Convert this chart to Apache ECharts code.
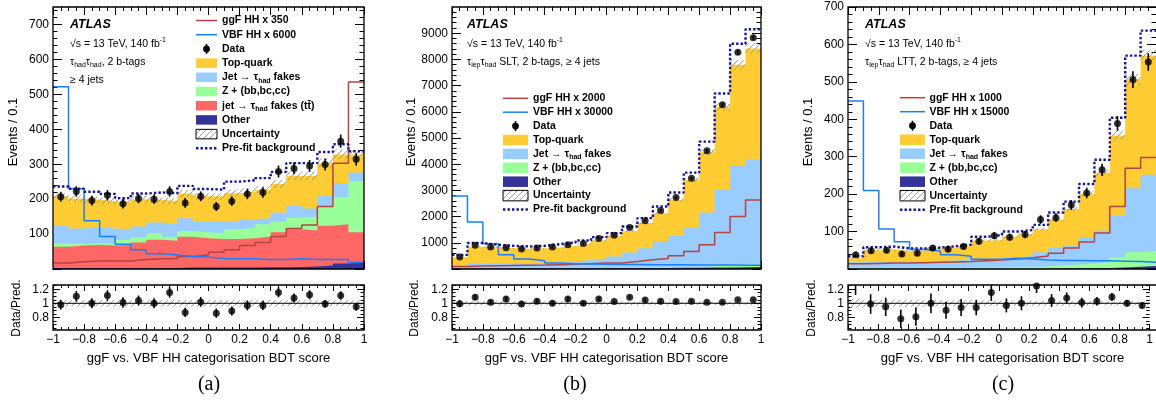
<!DOCTYPE html>
<html><head><meta charset="utf-8">
<script src="https://cdn.jsdelivr.net/npm/echarts@6/dist/echarts.min.js"></script>
<style>html,body{margin:0;padding:0;background:#fff}#c{position:relative;width:1156px;height:415px;overflow:hidden}
.layer{position:absolute;left:0;top:0;width:1156px;height:415px}</style>
</head><body><div id="c"></div>
<script>
// ---------------- data ----------------
const binEdges = [-1,-0.9,-0.8,-0.7,-0.6,-0.5,-0.4,-0.3,-0.2,-0.1,0,0.1,0.2,0.3,0.4,0.5,0.6,0.7,0.8,0.9,1];
const binCenters = [-0.95,-0.85,-0.75,-0.65,-0.55,-0.45,-0.35,-0.25,-0.15,-0.05,0.05,0.15,0.25,0.35,0.45,0.55,0.65,0.75,0.85,0.95];

const aOther   = [3,3,3,3,3,3,3,3,4,4,4,4,4,5,5,6,7,10,16,18];
const aTtFake  = [61,64,66,64,66,73,81,78,88,84,82,82,84,88,100,108,103,114,112,87];
const aZbb     = [9,5,5,6,15,14,18,11,17,17,17,28,30,35,30,33,40,55,78,147];
const aJetFake = [51,44,46,43,30,32,31,36,36,30,34,21,25,17,27,34,23,31,40,24];
const aTop     = [84,86,78,78,78,78,65,67,71,73,71,82,78,82,81,86,94,93,82,52];
const aUnc     = [9,9,9,9,9,9,9,9,10,10,10,10,10,11,11,12,12,13,14,14];
const aData    = [207,222,196,211,187,202,200,222,189,208,179,194,215,219,279,288,295,299,366,314];
const aDataErr = [14,15,14,15,14,14,14,15,14,14,13,14,15,15,17,17,17,17,19,18];
const aPrefit  = [236,230,221,215,203,216,219,217,238,229,227,250,254,260,278,303,303,335,357,337];
const aGgF     = [17,21,23,23,23,27,29,30,36,40,48,55,67,76,93,116,126,179,303,535];
const aVBF     = [522,230,138,93,71,55,44,40,36,34,30,29,29,27,27,29,27,27,27,19];
const aRatio   = [0.98,1.10,1.00,1.11,1.01,1.04,1.00,1.155,0.87,1.02,0.86,0.89,0.97,0.97,1.155,1.075,1.12,0.99,1.11,0.95];
const aRatioErr= [0.07,0.075,0.07,0.075,0.075,0.07,0.07,0.075,0.065,0.07,0.065,0.065,0.07,0.065,0.07,0.065,0.065,0.055,0.06,0.055];

const bOther   = [20,30,30,30,30,30,30,30,30,30,35,35,40,40,45,50,55,60,70,80];
const bZbb     = [10,15,15,15,15,15,15,15,20,20,20,25,25,30,30,40,50,60,90,110];
const bJetFake = [100,175,175,180,185,195,215,245,290,350,425,570,730,980,1190,1510,2050,2920,3810,4000];
const bTop     = [320,630,615,575,540,550,560,595,620,690,780,825,960,1080,1370,1800,2300,3150,3830,4230];
const bUnc     = [15,25,25,25,25,25,25,25,30,30,35,40,45,55,65,85,110,150,190,200];
const bData    = [455,910,835,810,760,800,835,925,975,1165,1292,1584,1838,2232,2727,3463,4517,6270,8270,8830];
const bDataErr = [21,30,29,28,28,28,29,30,31,34,36,40,43,47,52,59,67,79,91,94];
const bPrefit  = [540,990,925,885,860,885,950,1013,1090,1216,1368,1622,1940,2384,2917,3679,4860,6700,8600,9150];
const bGgF     = [100,110,120,130,140,150,165,180,200,225,225,289,352,400,505,670,924,1394,2003,2638];
const bVBF     = [2790,1790,962,543,378,314,225,200,190,180,175,170,165,160,160,155,150,150,145,140];
const bRatio   = [0.995,1.085,1.015,1.06,0.99,1.03,1.0,1.06,1.0,1.06,1.025,1.085,1.045,1.03,1.025,1.03,1.015,1.015,1.05,1.05];
const bRatioErr= [0.05,0.036,0.036,0.036,0.037,0.036,0.036,0.034,0.033,0.03,0.029,0.026,0.024,0.022,0.02,0.018,0.015,0.013,0.011,0.011];

const cOther   = [1,1,1,1,1,1,1,1,1,1,1,1,1,2,2,2,3,4,6,8];
const cZbb     = [3,3,3,3,3,3,3,3,4,4,5,5,6,8,10,12,16,27,39,40];
const cJetFake = [14,16,16,16,17,18,19,20,21,23,26,28,38,46,50,71,84,112,171,204];
const cTop     = [11,30,33,28,28,33,35,38,50,49,54,58,61,76,98,116,154,214,290,318];
const cUnc     = [2,2.5,2.5,2.5,2.5,2.5,2.5,3,3,3,3.5,3.5,4,5,5.5,6.5,8,11,15,16];
const cData    = [38,49,50,40,42,56,53,60,74,89,85,92,132,137,171,203,265,389,506,553];
const cDataErr = [6,7,7,6.3,6.5,7.5,7.3,7.7,8.6,9.4,9.2,9.6,11.5,11.7,13,14.2,16.3,19.7,22.5,23.5];
const cPrefit  = [34,58,60,55,55,57,61,65,86,91,100,104,118,151,180,227,292,404,570,637];
const cGgF     = [14,15,16,16,17,18,19,20,22,24,27,30,35,42,56,72,96,167,269,298];
const cVBF     = [449,210,107,73,52,48,38,34,26,26,29,27,24,23,23,22,22,21,20,18];
const cRatio   = [1.29,0.99,0.95,0.78,0.81,1.0,0.90,0.94,0.94,1.155,0.97,1.0,1.245,1.04,1.075,1.01,1.03,1.09,1.0,0.97];
const cRatioErr= [0.17,0.14,0.13,0.13,0.13,0.14,0.12,0.12,0.11,0.12,0.1,0.1,0.1,0.09,0.08,0.07,0.06,0.055,0.045,0.04];

const yTicksA = [0,100,200,300,400,500,600,700];
const yLabelsA = [100,200,300,400,500,600,700];
const yTicksB = [0,1000,2000,3000,4000,5000,6000,7000,8000,9000];
const yLabelsB = [1000,2000,3000,4000,5000,6000,7000,8000,9000];
const yTicksC = [0,100,200,300,400,500,600,700];
const yLabelsC = [100,200,300,400,500,600,700];
const rTicks = [0.8,1,1.2];
const rMinorTicks = [0.65,0.7,0.75,0.85,0.9,0.95,1.05,1.1,1.15,1.25];

// ---------------- style ----------------
const FONT = '"Liberation Sans", Arial, Helvetica, sans-serif';
const SERIF = '"Liberation Serif", "Times New Roman", serif';
const C = {top:'#ffcc33', jet:'#99ccff', z:'#99ff99', tt:'#ff6666', other:'#333399', ggf:'#b5433f', vbf:'#1a7fff', prefit:'#1414a0'};
function makeHatch(){
  const cv = document.createElement('canvas'); cv.width = 6; cv.height = 6;
  const g = cv.getContext('2d'); g.strokeStyle = '#8a8a8a'; g.lineWidth = 0.8; g.beginPath();
  g.moveTo(0,6); g.lineTo(6,0); g.moveTo(-3,3); g.lineTo(3,-3); g.moveTo(3,9); g.lineTo(9,3); g.stroke();
  return cv;
}
const hatchFill = {image: makeHatch(), repeat: 'repeat'};
function minorRange(lo, hi, step, majorStep){ const out=[]; for(let v=lo; v<=hi+1e-9; v+=step){const r=Math.round(v*1000)/1000; if(Math.abs(r/majorStep-Math.round(r/majorStep))>1e-6) out.push(r);} return out; }

const G = [[53,7,311,262],[53,285,311,45],[452,7,309,262],[452,285,309,45],[848,7,309,262],[848,285,309,45]];
const panels = [
  {main:0, rg:1, ymax:750, yint:100, showMax:false, ticks:yTicksA, labels:yLabelsA, minor:minorRange(20,740,20,100),
   comps:[[aOther,C.other],[aTtFake,C.tt],[aZbb,C.z],[aJetFake,C.jet],[aTop,C.top]],
   unc:aUnc, data:aData, err:aDataErr, prefit:aPrefit, ggf:aGgF, vbf:aVBF, ratio:aRatio, rerr:aRatioErr},
  {main:2, rg:3, ymax:10000, yint:1000, showMax:false, ticks:yTicksB, labels:yLabelsB, minor:minorRange(200,9800,200,1000),
   comps:[[bOther,C.other],[bZbb,C.z],[bJetFake,C.jet],[bTop,C.top]],
   unc:bUnc, data:bData, err:bDataErr, prefit:bPrefit, ggf:bGgF, vbf:bVBF, ratio:bRatio, rerr:bRatioErr},
  {main:4, rg:5, ymax:700, yint:100, showMax:true, ticks:yTicksC, labels:yLabelsC, minor:minorRange(20,680,20,100),
   comps:[[cOther,C.other],[cZbb,C.z],[cJetFake,C.jet],[cTop,C.top]],
   unc:cUnc, data:cData, err:cDataErr, prefit:cPrefit, ggf:cGgF, vbf:cVBF, ratio:cRatio, rerr:cRatioErr}
];

function fmtX(v){ const s = String(+(+v).toFixed(1)); return s.replace('-', '\u2212'); }
function fmtY(v){ return String(+(+v).toFixed(2)); }
const lblStyle = {color:'#000', fontFamily:FONT, fontSize:12, margin:4};
function xAxisDef(pos, showLabel, L, level){
  if (level >= 3) return {type:'value', min:-1, max:1, interval:0.2, position:pos, splitLine:{show:false},
     axisLabel:Object.assign({show:showLabel, formatter:fmtX}, lblStyle)};
  return {type:'value', position:pos, min:-1, max:1, interval:0.2, axisLine:{show:false, onZero:false},
    axisTick:{show:true, inside:true, length:L, lineStyle:{color:'#000', width:1}},
    minorTick:{show:true, splitNumber:4, length:L/2, lineStyle:{color:'#000', width:1}},
    splitLine:{show:false}, minorSplitLine:{show:false},
    axisLabel:Object.assign({show:showLabel, formatter:fmtX}, lblStyle)};
}
function yAxisDefs(cfg, level){
  const isR = cfg.isR, L = isR ? 7 : 9;
  if (level >= 2){
    const mn = isR ? 0.6 : 0, mx = isR ? 1.26 : cfg.ymax, iv = isR ? 0.2 : cfg.yint;
    const base = {type:'value', min:mn, max:mx, interval:iv, splitLine:{show:false},
      axisLabel:Object.assign({formatter:fmtY, showMinLabel:false, showMaxLabel: isR ? false : cfg.showMax}, lblStyle)};
    if (level === 2){
      base.axisLine = {show:false, onZero:false};
      base.axisTick = {show:true, inside:true, length:L, lineStyle:{color:'#000', width:1}};
      base.minorTick = {show:true, splitNumber: isR ? 4 : 5, length:L/2, lineStyle:{color:'#000', width:1}};
    }
    return [base];
  }
  const mn = isR ? 0.62 : 0, mx = isR ? 1.26 : cfg.ymax;
  const tk = isR ? rTicks : cfg.ticks, lb = isR ? rTicks : cfg.labels, mi = isR ? rMinorTicks : cfg.minor;
  const mk = (pos, ticks, labels, len, show) => ({type:'value', position:pos, min:mn, max:mx, axisLine:{show:false, onZero:false},
    axisTick:{show:true, inside:true, length:len, customValues:ticks, lineStyle:{color:'#000', width:1}},
    minorTick:{show:false}, splitLine:{show:false},
    axisLabel:Object.assign({show:show, customValues:labels, formatter:fmtY}, lblStyle)});
  const out = [mk('left', tk, lb, L, true)];
  if (level === 0){ out.push(mk('left', mi, mi, L/2, false)); out.push(mk('right', tk, tk, L, false)); out.push(mk('right', mi, mi, L/2, false)); }
  return out;
}
function stepData(vals){ const d = vals.map((v,i) => [binEdges[i], v]); d.push([binEdges[20], vals[19]]); return d; }
function bandItem(params, api){ const p0=api.coord([api.value(0),api.value(3)]); const p1=api.coord([api.value(1),api.value(2)]);
  return {type:'rect', shape:{x:p0[0], y:p0[1], width:p1[0]-p0[0], height:p1[1]-p0[1]}, style:{fill:hatchFill, stroke:null}}; }
function errItem(params, api){ const a=api.coord([api.value(0),api.value(1)]); const b=api.coord([api.value(0),api.value(2)]);
  return {type:'line', shape:{x1:a[0], y1:a[1], x2:b[0], y2:b[1]}, style:{stroke:'#000', lineWidth:1.6}}; }

function panelSeries(p, isR){
  const cum=[]; let run=new Array(20).fill(0);
  p.comps.forEach(c => { run = run.map((r,i)=>r+c[0][i]); cum.push(run.slice()); });
  const total = cum[cum.length-1];
  const s = [];
  if (!isR){
    for (let k=cum.length-1; k>=0; k--) s.push({type:'line', step:'end', data:stepData(cum[k]), symbol:'none', lineStyle:{width:0}, areaStyle:{color:p.comps[k][1], opacity:1}, z:2, silent:true});
    s.push({type:'custom', renderItem:bandItem, clip:true, z:3, silent:true, encode:{x:[0,1], y:[2,3]}, data: total.map((t,i)=>[binEdges[i],binEdges[i+1],t-p.unc[i],t+p.unc[i]])});
    s.push({type:'line', step:'end', data:stepData(p.ggf), symbol:'none', lineStyle:{color:C.ggf, width:1.5}, z:4, silent:true});
    s.push({type:'line', step:'end', data:stepData(p.vbf), symbol:'none', lineStyle:{color:C.vbf, width:1.5}, z:4, silent:true});
    s.push({type:'line', step:'end', data:stepData(p.prefit), symbol:'none', lineStyle:{color:C.prefit, width:2.4, type:[2.4,2.1]}, z:4, silent:true});
    s.push({type:'custom', renderItem:errItem, clip:true, z:5, silent:true, encode:{x:0, y:[1,2]}, data: p.data.map((d,i)=>[binCenters[i], d-p.err[i], d+p.err[i]])});
    s.push({type:'scatter', symbol:'circle', symbolSize:7, itemStyle:{color:'#000'}, z:6, silent:true, data:p.data.map((d,i)=>[binCenters[i], d])});
  } else {
    s.push({type:'custom', renderItem:bandItem, clip:true, z:3, silent:true, encode:{x:[0,1], y:[2,3]}, data: total.map((t,i)=>[binEdges[i],binEdges[i+1],1-p.unc[i]/t,1+p.unc[i]/t])});
    s.push({type:'line', data:[[-1,1],[1,1]], symbol:'none', lineStyle:{color:'#000', width:1}, z:4, silent:true});
    s.push({type:'custom', renderItem:errItem, clip:true, z:5, silent:true, encode:{x:0, y:[1,2]}, data: p.ratio.map((d,i)=>[binCenters[i], d-p.rerr[i], d+p.rerr[i]])});
    s.push({type:'scatter', symbol:'circle', symbolSize:7, itemStyle:{color:'#000'}, z:6, silent:true, data:p.ratio.map((d,i)=>[binCenters[i], d])});
  }
  return s;
}
function panelOption(p, isR, level){
  const g = G[isR ? p.rg : p.main];
  const L = isR ? 6 : 8;
  const xs = [xAxisDef('bottom', isR, L, level)];
  if (level === 0) xs.push(xAxisDef('top', false, L, level));
  const ys = yAxisDefs({isR:isR, ymax:p.ymax, yint:p.yint, showMax:p.showMax, ticks:p.ticks, labels:p.labels, minor:p.minor}, level);
  return {animation:false, grid:[{left:g[0], top:g[1], width:g[2], height:g[3], show:false}], xAxis:xs, yAxis:ys, series:panelSeries(p, isR)};
}
const host = document.getElementById('c');
function layer(){ const d = document.createElement('div'); d.className = 'layer'; host.appendChild(d); return d; }
panels.forEach(p => [false, true].forEach(isR => {
  for (let level = 0; level <= 3; level++){
    const d = layer(); const ch = echarts.init(d);
    try { ch.setOption(panelOption(p, isR, level)); break; }
    catch(e){ ch.dispose(); d.remove(); }
  }
}));

// ---------------- overlay: frames, texts, legends ----------------
const graphic = [];
G.forEach(g => graphic.push({type:'rect', z:100, silent:true, shape:{x:g[0], y:g[1], width:g[2], height:g[3]}, style:{fill:'none', stroke:'#000', lineWidth:1.3}}));
function text(x, y, str, o){
  o = o || {};
  const fs = o.fs || 11, fw = o.fw || 'normal', ff = o.ff || FONT, fst = o.fst || 'normal';
  graphic.push({type:'text', x:x, y:y, rotation:o.rot || 0, z:110, silent:true,
    style:{text:str, fontFamily:ff, fontSize:fs, fontWeight:fw, fontStyle:fst, fill:'#000',
      align:o.align || 'left', verticalAlign:'middle', lineHeight:o.lh || 14,
      rich:{ s:{fontFamily:ff, fontSize:o.sfs || 7.5, fontWeight:fw, fill:'#000', lineHeight:7, verticalAlign:'bottom'},
             u:{fontFamily:ff, fontSize:o.sfs || 7.5, fontWeight:fw, fill:'#000', lineHeight:7, verticalAlign:'top'} }}});
}
[70, 467, 865].forEach(x => { text(x, 25, 'ATLAS', {fs:12.5, fw:'bold', fst:'italic'}); text(x, 44, '\u221As = 13 TeV, 140 fb{u|-1}', {fs:10.5, sfs:7}); });
text(70, 62, '\u03C4{s|had}\u03C4{s|had}, 2 b-tags', {fs:10.5, sfs:7});
text(70, 80, '\u2265 4 jets', {fs:10.5});
text(467, 62, '\u03C4{s|lep}\u03C4{s|had} SLT, 2 b-tags, \u2265 4 jets', {fs:10.5, sfs:7});
text(865, 62, '\u03C4{s|lep}\u03C4{s|had} LTT, 2 b-tags, \u2265 4 jets', {fs:10.5, sfs:7});
[13, 411.7, 808].forEach(x => text(x, 132, 'Events / 0.1', {fs:13, align:'center', rot:Math.PI/2}));
[17, 415, 812].forEach(x => text(x, 308, 'Data/Pred.', {fs:12, align:'center', rot:Math.PI/2}));
[208.5, 606.5, 1002.5].forEach(x => text(x, 358, 'ggF vs. VBF HH categorisation BDT score', {fs:13, align:'center'}));
[[209,'(a)'],[575,'(b)'],[1003,'(c)']].forEach(a => text(a[0], 385, a[1], {fs:20, ff:SERIF, align:'center', lh:24}));
function legend(sx, sw, sh, tx, y0, dy, items){
  items.forEach((it, k) => {
    const y = y0 + k*dy;
    if (it[0] === 'line') graphic.push({type:'line', z:110, silent:true, shape:{x1:sx, y1:y, x2:sx+sw, y2:y}, style:{stroke:it[1], lineWidth:1.5}});
    else if (it[0] === 'dotted') graphic.push({type:'line', z:110, silent:true, shape:{x1:sx, y1:y, x2:sx+sw, y2:y}, style:{stroke:C.prefit, lineWidth:2.4, lineDash:[2.4,2.1]}});
    else if (it[0] === 'data'){
      graphic.push({type:'line', z:110, silent:true, shape:{x1:sx+sw/2, y1:y-5, x2:sx+sw/2, y2:y+5}, style:{stroke:'#000', lineWidth:1.6}});
      graphic.push({type:'circle', z:111, silent:true, shape:{cx:sx+sw/2, cy:y, r:3.4}, style:{fill:'#000'}});
    } else if (it[0] === 'box') graphic.push({type:'rect', z:110, silent:true, shape:{x:sx, y:y-sh/2, width:sw, height:sh}, style:{fill:it[1]}});
    else if (it[0] === 'hatch') graphic.push({type:'rect', z:110, silent:true, shape:{x:sx, y:y-sh/2, width:sw, height:sh}, style:{fill:hatchFill, stroke:'#000', lineWidth:1}});
    text(tx, y, it[2], {fs:10.5, fw:'bold', sfs:7});
  });
}
const jetTxt = 'Jet \u2192 \u03C4{s|had} fakes';
legend(196, 21, 9.5, 222, 20.5, 14.2, [['line',C.ggf,'ggF HH x 350'],['line',C.vbf,'VBF HH x 6000'],['data',null,'Data'],
  ['box',C.top,'Top-quark'],['box',C.jet,jetTxt],['box',C.z,'Z + (bb,bc,cc)'],['box',C.tt,'jet \u2192 \u03C4{s|had} fakes (tt\u0304)'],
  ['box',C.other,'Other'],['hatch',null,'Uncertainty'],['dotted',null,'Pre-fit background']]);
legend(503, 25, 10.5, 533, 98.3, 13.9, [['line',C.ggf,'ggF HH x 2000'],['line',C.vbf,'VBF HH x 30000'],['data',null,'Data'],
  ['box',C.top,'Top-quark'],['box',C.jet,jetTxt],['box',C.z,'Z + (bb,bc,cc)'],['box',C.other,'Other'],['hatch',null,'Uncertainty'],['dotted',null,'Pre-fit background']]);
legend(900, 25, 10.5, 929.5, 97.7, 14, [['line',C.ggf,'ggF HH x 1000'],['line',C.vbf,'VBF HH x 15000'],['data',null,'Data'],
  ['box',C.top,'Top-quark'],['box',C.jet,jetTxt],['box',C.z,'Z + (bb,bc,cc)'],['box',C.other,'Other'],['hatch',null,'Uncertainty'],['dotted',null,'Pre-fit background']]);
const over = echarts.init(layer());
over.setOption({animation:false, graphic:graphic});
</script>
</body></html>
